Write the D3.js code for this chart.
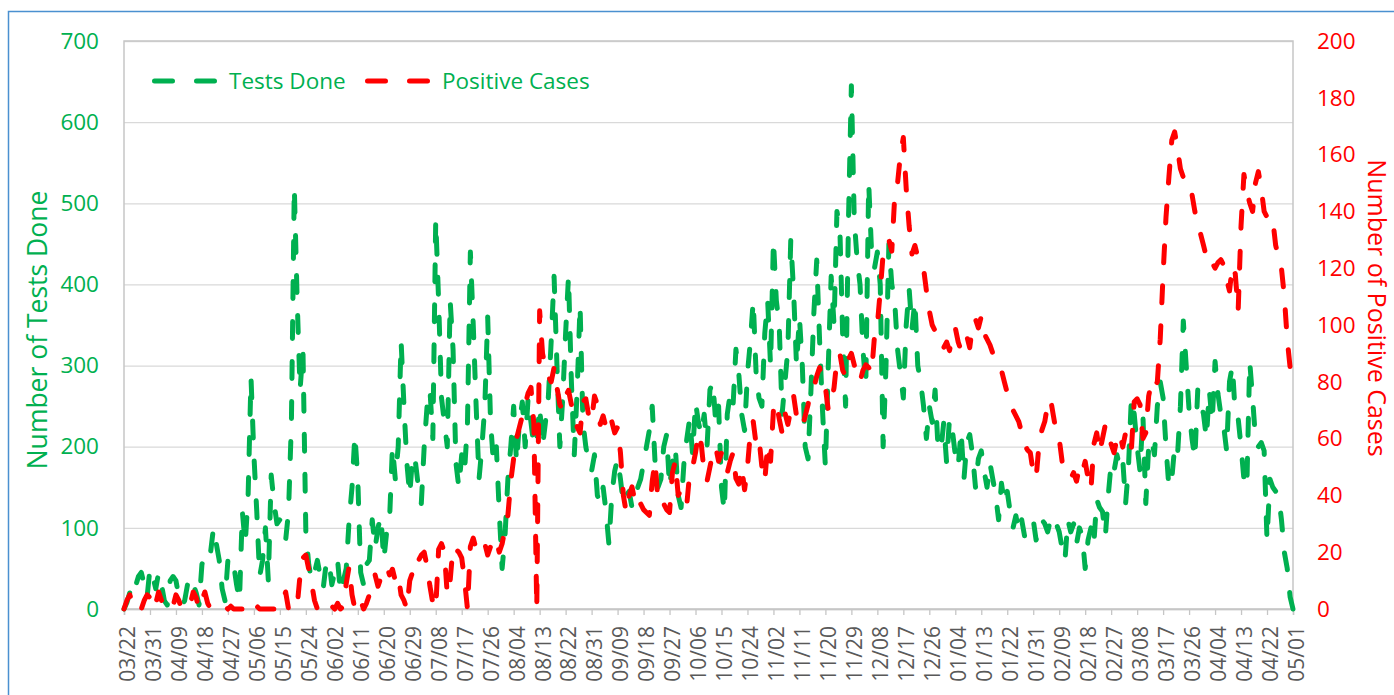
<!DOCTYPE html>
<html>
<head>
<meta charset="utf-8">
<script src="https://cdn.jsdelivr.net/npm/d3@7"></script>
<style>
body { margin: 0; background: #fff; }
svg { display: block; font-family: 'Open Sans', sans-serif; }
</style>
</head>
<body>
<div id="chart"></div>
<script>
// daily data, 2020-03-22 .. 2021-05-01
var startDate = new Date(2020, 2, 22)
var tickEvery = 9

var testsDone = [
    0, 8, 20, 35, 28, 40, 45, 30, 15,          // 03/22
    50, 40, 25, 45, 30, 10, 5, 35, 40,         // 03/31
    35, 15, 5, 10, 30, 40, 30, 20, 5,          // 04/09
    55, 65, 60, 70, 100, 80, 60, 25, 10,       // 04/18
    60, 65, 55, 30, 10, 120, 80, 140, 285,     // 04/27
    190, 120, 40, 60, 100, 35, 165, 130, 105,  // 05/06
    110, 95, 85, 120, 230, 520, 380, 270, 320, // 05/15
    95, 55, 35, 45, 60, 40, 25, 55, 60,        // 05/24
    30, 45, 60, 20, 35, 50, 110, 150, 215,     // 06/02
    160, 45, 30, 55, 60, 110, 75, 100, 115,    // 06/11
    60, 95, 110, 200, 160, 200, 330, 250, 180, // 06/20
    140, 190, 180, 150, 130, 200, 250, 270, 210, // 06/29
    480, 380, 260, 230, 200, 380, 320, 180, 150, // 07/08
    190, 170, 230, 440, 350, 250, 160, 200, 250, // 07/17
    360, 230, 180, 200, 120, 50, 90, 160, 200, // 07/26
    250, 180, 230, 255, 200, 260, 230, 200, 210, // 08/04
    250, 200, 230, 260, 330, 410, 300, 200, 260, // 08/13
    340, 410, 280, 190, 270, 375, 230, 200, 180, // 08/22
    170, 190, 140, 130, 150, 120, 80, 140, 170, // 08/31
    185, 160, 130, 140, 145, 125, 135, 150, 160, // 09/09
    180, 200, 220, 250, 180, 150, 160, 200, 215, // 09/18
    150, 180, 200, 140, 125, 180, 210, 235, 190, // 09/27
    255, 230, 215, 240, 200, 270, 280, 230, 250, // 10/06
    150, 120, 240, 265, 250, 320, 290, 240, 220, // 10/15
    290, 330, 380, 290, 260, 250, 340, 380, 300, // 10/24
    455, 380, 350, 240, 280, 320, 455, 390, 300, // 11/02
    360, 300, 200, 185, 270, 365, 430, 330, 245, // 11/11
    175, 300, 410, 350, 490, 470, 335, 250, 480, // 11/20
    645, 480, 430, 400, 320, 275, 525, 440, 420, // 11/29
    440, 400, 200, 300, 450, 400, 380, 320, 290, // 12/08
    260, 350, 395, 345, 380, 300, 280, 250, 210, // 12/17
    250, 230, 270, 200, 195, 230, 180, 235, 220, // 12/26
    190, 175, 220, 160, 205, 215, 190, 150, 185, // 01/04
    195, 170, 150, 180, 160, 140, 110, 155, 130, // 01/13
    145, 120, 100, 115, 95, 110, 90, 95, 105,  // 01/22
    110, 85, 100, 110, 105, 95, 110, 100, 105, // 01/31
    95, 75, 60, 110, 95, 105, 80, 100, 90,     // 02/09
    50, 85, 100, 80, 135, 125, 120, 90, 140,   // 02/18
    180, 170, 190, 175, 185, 130, 175, 260, 240, // 02/27
    200, 170, 240, 130, 200, 210, 190, 250, 280, // 03/08
    260, 200, 150, 160, 200, 190, 250, 355, 300, // 03/17
    245, 210, 185, 270, 255, 240, 210, 270, 230, // 03/26
    305, 265, 240, 225, 195, 280, 300, 240, 235, // 04/04
    200, 160, 150, 305, 260, 210, 200, 205, 195, // 04/13
    85, 160, 150, 145, 140, 110, 70, 50, 15, 0  // 04/22
]

var positiveCases = [
    0, 3, 5, 2, 0, 1, 0, 3, 5,                 // 03/22
    4, 0, 2, 6, 3, 0, 0, 0, 1,                 // 03/31
    5, 3, 0, 0, 0, 2, 6, 4, 0,                 // 04/09
    3, 6, 2, 0, 0, 0, 0, 0, 1,                 // 04/18
    0, 1, 0, 0, 0, 0, 0, 1, 0,                 // 04/27
    2, 1, 0, 0, 0, 0, 0, 0, 0,                 // 05/06
    0, 3, 6, 0, 1, 0, 1, 12, 18,               // 05/15
    19, 14, 9, 3, 0, 1, 2, 1, 0,               // 05/24
    1, 0, 2, 0, 1, 9, 15, 5, 0,                // 06/02
    0, 3, 0, 2, 5, 10, 12, 8, 11,              // 06/11
    13, 15, 12, 14, 10, 12, 5, 3, 0,           // 06/20
    10, 13, 12, 17, 19, 20, 15, 8, 2,          // 06/29
    0, 21, 23, 20, 5, 10, 22, 21, 20,          // 07/08
    18, 10, 0, 22, 25, 21, 20, 22, 23,         // 07/17
    19, 22, 21, 24, 20, 23, 28, 33, 45,        // 07/26
    53, 60, 64, 68, 72, 76, 78, 65, 0,         // 08/04
    105, 90, 85, 82, 80, 85, 78, 72, 70,       // 08/13
    75, 77, 72, 70, 64, 62, 73, 74, 68,        // 08/22
    66, 75, 72, 65, 68, 64, 62, 66, 62,        // 08/31
    64, 55, 40, 34, 40, 43, 38, 40, 37,        // 09/09
    35, 34, 33, 45, 52, 38, 36, 37, 35,        // 09/18
    34, 48, 52, 40, 42, 38, 37, 48, 50,        // 09/27
    55, 62, 58, 48, 45, 50, 55, 57, 52,        // 10/06
    55, 50, 48, 52, 55, 46, 44, 50, 42,        // 10/15
    50, 62, 66, 58, 60, 50, 45, 58, 52,        // 10/24
    70, 73, 67, 62, 69, 65, 70, 75, 68,        // 11/02
    66, 64, 68, 72, 77, 78, 82, 85, 80,        // 11/11
    78, 70, 72, 78, 88, 90, 84, 82, 88,        // 11/20
    90, 86, 82, 80, 84, 86, 85, 83, 96,        // 11/29
    100, 112, 125, 128, 130, 126, 145, 150, 160, // 12/08
    166, 148, 135, 125, 128, 124, 122, 120, 112, // 12/17
    105, 100, 98, 95, 92, 92, 94, 91, 96,      // 12/26
    99, 94, 91, 92, 96, 92, 100, 102, 99,      // 01/04
    103, 97, 95, 93, 90, 88, 86, 84, 80,       // 01/13
    76, 72, 70, 68, 66, 62, 58, 56, 55,        // 01/22
    48, 46, 58, 63, 66, 72, 74, 68, 62,        // 01/31
    60, 52, 50, 48, 46, 48, 45, 50, 48,        // 02/09
    52, 46, 42, 58, 62, 55, 60, 65, 62,        // 02/18
    58, 55, 60, 62, 57, 62, 58, 56, 73,        // 02/27
    74, 72, 60, 62, 75, 80, 78, 80, 95,        // 03/08
    118, 138, 152, 165, 168, 162, 155, 152, 150, // 03/17
    150, 146, 140, 136, 132, 128, 124, 121, 122, // 03/26
    120, 122, 123, 121, 116, 112, 121, 118, 105, // 04/04
    135, 153, 147, 143, 140, 150, 154, 148, 140, // 04/13
    138, 136, 137, 128, 124, 120, 110, 95, 85, 80 // 04/22
]

var leftTicks = [0, 100, 200, 300, 400, 500, 600, 700]
var rightTicks = [0, 20, 40, 60, 80, 100, 120, 140, 160, 180, 200]
var seriesNames = ['Tests Done', 'Positive Cases']
var leftTitle = 'Number of Tests Done'
var rightTitle = 'Number of Positive Cases'

var green = '#00b050'
var red = '#ff0000'
var width = 1394
var height = 695
var plot = { left: 124, right: 1293, top: 41, bottom: 609 }

var dates = testsDone.map(function(d, i) { return d3.timeDay.offset(startDate, i) })
var tickDates = dates.filter(function(d, i) { return i % tickEvery === 0 })

var x = d3.scaleTime()
    .domain([dates[0], dates[dates.length - 1]])
    .range([plot.left, plot.right])

var yLeft = d3.scaleLinear().domain([0, 700]).range([plot.bottom, plot.top])
var yRight = d3.scaleLinear().domain([0, 200]).range([plot.bottom, plot.top])

var svg = d3.select('#chart').append('svg')
    .attr('width', width)
    .attr('height', height)

// outer chart frame
svg.append('rect')
    .attr('x', 8.5).attr('y', 11.5)
    .attr('width', 1500).attr('height', 800)
    .attr('fill', 'none')
    .attr('stroke', '#4a90d0')
    .attr('stroke-width', 1.5)

// gridlines
svg.append('g')
    .attr('class', 'grid')
    .attr('transform', 'translate(' + plot.left + ',0)')
    .call(d3.axisLeft(yLeft).tickValues(leftTicks).tickSize(-(plot.right - plot.left)).tickFormat(''))
    .call(function(g) { g.select('.domain').remove() })
    .selectAll('line')
    .attr('stroke', '#d9d9d9')
    .attr('stroke-width', 1.3)

// plot border
svg.append('rect')
    .attr('x', plot.left).attr('y', plot.top)
    .attr('width', plot.right - plot.left)
    .attr('height', plot.bottom - plot.top)
    .attr('fill', 'none')
    .attr('stroke', '#c6c6c6')
    .attr('stroke-width', 1.5)

// x axis
var xAxis = svg.append('g')
    .attr('transform', 'translate(0,' + plot.bottom + ')')
    .call(d3.axisBottom(x).tickValues(tickDates).tickFormat(d3.timeFormat('%m/%d')).tickSize(6))

xAxis.select('.domain').attr('stroke', '#c6c6c6').attr('stroke-width', 1.5)
xAxis.selectAll('.tick line').attr('stroke', '#c6c6c6').attr('stroke-width', 1.3)
xAxis.selectAll('.tick text')
    .attr('x', 0).attr('y', 0).attr('dy', '0.35em')
    .attr('transform', 'translate(3,17) rotate(-90)')
    .style('text-anchor', 'end')
    .style('font-size', '21px')
    .style('font-family', "'Open Sans', sans-serif")
    .attr('fill', '#595959')

// left axis
var leftAxis = svg.append('g')
    .attr('transform', 'translate(' + plot.left + ',0)')
    .call(d3.axisLeft(yLeft).tickValues(leftTicks).tickSize(0).tickPadding(25))
leftAxis.select('.domain').remove()
leftAxis.selectAll('text')
    .style('font-size', '22.5px')
    .style('font-family', "'Open Sans', sans-serif")
    .attr('fill', green)

// right axis
var rightAxis = svg.append('g')
    .attr('transform', 'translate(' + plot.right + ',0)')
    .call(d3.axisRight(yRight).tickValues(rightTicks).tickSize(0).tickPadding(24))
rightAxis.select('.domain').remove()
rightAxis.selectAll('text')
    .style('font-size', '22.5px')
    .style('font-family', "'Open Sans', sans-serif")
    .attr('fill', red)

// axis titles
svg.append('text')
    .attr('transform', 'translate(38,330) rotate(-90)')
    .attr('text-anchor', 'middle')
    .attr('dy', '0.35em')
    .attr('fill', green)
    .style('font-size', '26.5px')
    .text(leftTitle)

svg.append('text')
    .attr('transform', 'translate(1377,308) rotate(90)')
    .attr('text-anchor', 'middle')
    .attr('dy', '0.35em')
    .attr('fill', red)
    .style('font-size', '25px')
    .text(rightTitle)

// lines
var lineLeft = d3.line()
    .x(function(d, i) { return x(dates[i]) })
    .y(function(d) { return yLeft(d) })

var lineRight = d3.line()
    .x(function(d, i) { return x(dates[i]) })
    .y(function(d) { return yRight(d) })

svg.append('path')
    .datum(testsDone)
    .attr('d', lineLeft)
    .attr('fill', 'none')
    .attr('stroke', green)
    .attr('stroke-width', 5)
    .attr('stroke-dasharray', '17,23')
    .attr('stroke-linecap', 'round')
    .attr('stroke-linejoin', 'round')

svg.append('path')
    .datum(positiveCases)
    .attr('d', lineRight)
    .attr('fill', 'none')
    .attr('stroke', red)
    .attr('stroke-width', 5)
    .attr('stroke-dasharray', '17,23')
    .attr('stroke-linecap', 'round')
    .attr('stroke-linejoin', 'round')

// legend
var legend = svg.append('g').attr('class', 'legend')
var legendItems = [
    { name: seriesNames[0], color: green, x: 152 },
    { name: seriesNames[1], color: red, x: 365 }
]
legendItems.forEach(function(d) {
    legend.append('line')
        .attr('x1', d.x + 2.5).attr('x2', d.x + 62.5)
        .attr('y1', 81).attr('y2', 81)
        .attr('stroke', d.color)
        .attr('stroke-width', 5)
        .attr('stroke-dasharray', '18,24')
        .attr('stroke-linecap', 'round')
    legend.append('text')
        .attr('x', d.x + 77)
        .attr('y', 81)
        .attr('dy', '0.35em')
        .attr('fill', green)
        .style('font-size', '22.5px')
        .text(d.name)
})
</script>
</body>
</html>
